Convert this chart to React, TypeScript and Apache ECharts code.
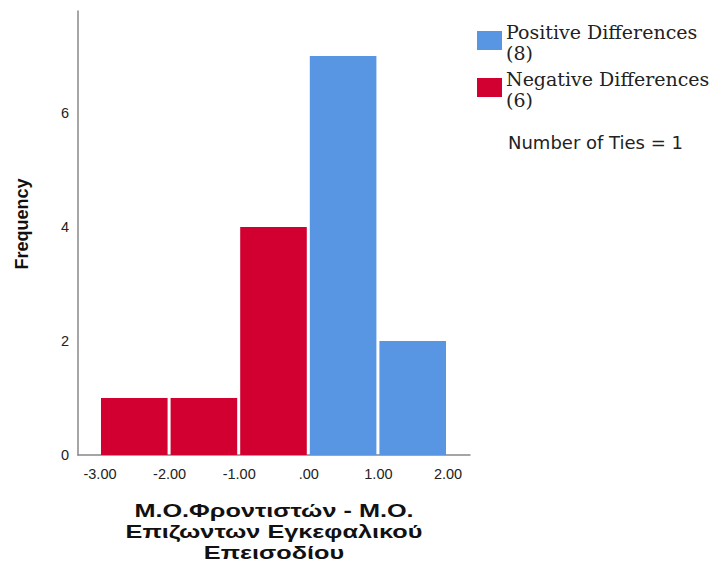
import React, { useEffect, useRef } from "react";
import * as echarts from "echarts";

// Histogram bins (edges) and frequencies of the differences
const binStarts = [-3, -2, -1, 0, 1];
const binEnds = [-2, -1, 0, 1, 2];
const frequencies = [1, 1, 4, 7, 2];
const binGroups = ["negative", "negative", "negative", "positive", "positive"];

const yTicks = [0, 2, 4, 6];
const xTicks = [-3, -2, -1, 0, 1, 2];
const xTickLabels = ["-3.00", "-2.00", "-1.00", ".00", "1.00", "2.00"];

const xTitleLines = ["Μ.Ο.Φροντιστών - Μ.Ο.", "Επιζωντων Εγκεφαλικού", "Επεισοδίου"];
const yTitle = "Frequency";

const legendItems = [
  { key: "positive", label: "Positive Differences", count: "(8)" },
  { key: "negative", label: "Negative Differences", count: "(6)" },
];
const tiesText = "Number of Ties = 1";

const colors: Record<string, string> = {
  positive: "#5896e3",
  negative: "#d20031",
};

const SANS = '"Liberation Sans", Arial, sans-serif';
const WIDE_SANS = '"DejaVu Sans", "Liberation Sans", sans-serif';

export default function App() {
  const ref = useRef<HTMLDivElement>(null);

  useEffect(() => {
    document.body.style.margin = "0";
    if (!ref.current) return;
    const chart = echarts.init(ref.current, null, { renderer: "svg" });

    const data = binStarts.map((s, i) => [s, binEnds[i], frequencies[i], i]);

    const graphics: any[] = [];

    // Legend swatches and labels
    legendItems.forEach((item, i) => {
      const top = 31 + i * 47;
      graphics.push({
        type: "rect",
        shape: { x: 477, y: top, width: 25, height: 19 },
        style: { fill: colors[item.key] },
      });
      graphics.push({
        type: "text",
        x: 506,
        y: top - 10,
        style: {
          text: item.label + "\n" + item.count,
          font: '19px "DejaVu Serif", "Liberation Serif", serif',
          lineHeight: 21,
          fill: "#222",
        },
      });
    });
    graphics.push({
      type: "text",
      x: 508,
      y: 133,
      style: {
        text: tiesText,
        font: "18px " + WIDE_SANS,
        fill: "#222",
      },
    });

    // Axis titles
    graphics.push({
      type: "text",
      x: 22,
      y: 224,
      rotation: Math.PI / 2,
      style: {
        text: yTitle,
        font: "bold 18px " + SANS,
        fill: "#111",
        align: "center",
        verticalAlign: "middle",
      },
    });
    graphics.push({
      type: "text",
      x: 274,
      y: 500,
      scaleX: 1.33,
      style: {
        text: xTitleLines.join("\n"),
        font: "bold 19px " + SANS,
        lineHeight: 21,
        fill: "#111",
        align: "center",
        verticalAlign: "top",
      },
    });

    chart.setOption({
      animation: false,
      grid: { left: 78, right: 243, top: 11, bottom: 108, outerBoundsMode: "none", containLabel: false },
      xAxis: {
        type: "value",
        min: -3.316,
        max: 2.316,
        splitLine: { show: false },
        axisTick: { show: false },
        axisLine: { show: true, onZero: false, lineStyle: { color: "#888", width: 1.5 } },
        axisLabel: {
          color: "#222",
          fontSize: 14.5,
          fontFamily: SANS,
          margin: 11,
          customValues: xTicks,
          formatter: (v: number) => xTickLabels[xTicks.indexOf(Math.round(v))] ?? "",
        },
      },
      yAxis: {
        type: "value",
        min: 0,
        max: 7.79,
        splitLine: { show: false },
        axisTick: { show: false },
        axisLine: { show: true, onZero: false, lineStyle: { color: "#888", width: 1.5 } },
        axisLabel: {
          color: "#222",
          fontSize: 14.5,
          fontFamily: SANS,
          margin: 9,
          padding: [5, 0, 0, 0],
          customValues: yTicks,
        },
      },
      series: [
        {
          type: "custom",
          data,
          renderItem: (params: any, api: any) => {
            const start = api.value(0);
            const end = api.value(1);
            const count = api.value(2);
            const idx = api.value(3);
            const p0 = api.coord([start, 0]);
            const p1 = api.coord([end, count]);
            return {
              type: "rect",
              shape: {
                x: p0[0] + 1,
                y: p1[1],
                width: p1[0] - p0[0] - 3,
                height: p0[1] - p1[1],
              },
              style: { fill: colors[binGroups[idx]] },
            };
          },
        },
      ],
      graphic: graphics,
    });

    return () => chart.dispose();
  }, []);

  return <div ref={ref} style={{ width: 713, height: 563 }} />;
}
